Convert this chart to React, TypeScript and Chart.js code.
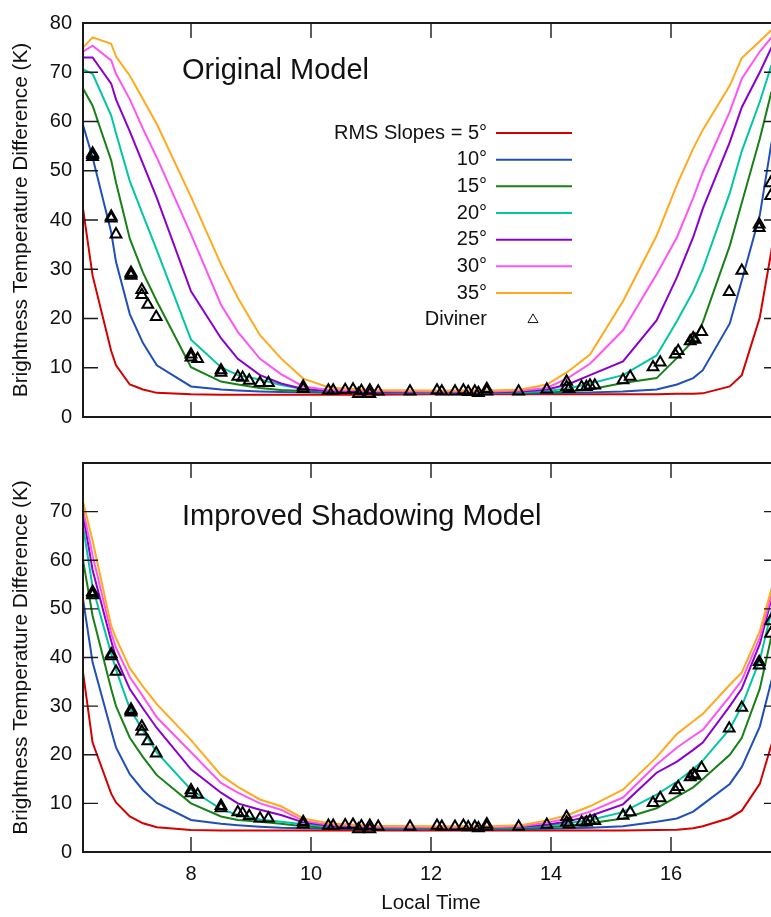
import { useEffect, useRef } from 'react';
import { Chart, registerables } from 'chart.js';

Chart.register(...registerables);

// ---------- data ----------
const MODEL_TIMES = [6.2, 6.36, 6.67, 6.75, 6.98, 7.2, 7.43, 8.0, 8.5, 8.78, 9.15, 9.5, 9.87, 10.3, 11.0, 12.0, 13.0, 13.5, 13.93, 14.28, 14.65, 15.2, 15.76, 16.1, 16.37, 16.53, 16.98, 17.18, 17.48, 17.67, 17.8];

const SLOPE_LABELS = ['RMS Slopes = 5°', '10°', '15°', '20°', '25°', '30°', '35°'];

// Original model
const ORIG_5 = [42.3, 28.7, 13.4, 10.5, 6.6, 5.6, 4.9, 4.6, 4.5, 4.5, 4.5, 4.5, 4.5, 4.5, 4.5, 4.6, 4.6, 4.6, 4.6, 4.6, 4.6, 4.6, 4.6, 4.7, 4.7, 4.8, 6.2, 8.5, 20.2, 33.5, 44.0];
const ORIG_10 = [59.3, 52.7, 37.5, 31.5, 20.9, 15.0, 10.5, 6.2, 5.6, 5.4, 5.2, 5.1, 5.0, 4.9, 4.8, 4.8, 4.8, 4.8, 4.8, 4.9, 5.0, 5.2, 5.6, 6.6, 7.9, 9.5, 19.0, 27.7, 41.0, 55.3, 62.5];
const ORIG_15 = [66.7, 63.2, 52.1, 47.6, 36.2, 29.3, 23.5, 10.1, 7.2, 6.6, 5.9, 5.5, 5.3, 5.0, 4.9, 4.8, 4.8, 4.9, 5.0, 5.2, 5.6, 6.9, 7.9, 12.0, 15.5, 19.2, 34.8, 43.5, 56.5, 65.8, 69.5];
const ORIG_20 = [70.6, 69.7, 61.2, 57.6, 47.9, 41.0, 33.9, 15.7, 10.1, 8.5, 7.6, 6.5, 5.7, 5.2, 5.0, 4.9, 4.9, 5.0, 5.3, 5.8, 6.8, 8.5, 12.5, 19.5, 25.5, 30.0, 45.5, 54.0, 64.0, 71.3, 73.5];
const ORIG_25 = [73.0, 73.0, 67.7, 64.5, 58.0, 51.4, 44.5, 25.5, 16.0, 11.8, 8.5, 6.8, 5.7, 5.3, 5.1, 5.0, 5.0, 5.2, 5.6, 6.6, 8.5, 11.3, 19.6, 28.4, 36.5, 42.3, 55.8, 62.9, 70.0, 74.9, 76.8];
const ORIG_30 = [74.2, 75.4, 72.4, 69.7, 64.5, 58.5, 52.7, 37.1, 22.8, 17.3, 11.8, 8.7, 6.2, 5.5, 5.3, 5.2, 5.2, 5.4, 5.9, 7.9, 10.8, 17.6, 29.0, 36.5, 44.5, 49.7, 62.0, 68.7, 74.2, 77.0, 78.3];
const ORIG_35 = [75.0, 77.1, 75.8, 73.2, 69.3, 64.5, 59.5, 44.7, 31.0, 24.2, 16.6, 11.9, 7.8, 6.0, 5.5, 5.4, 5.4, 5.6, 6.6, 9.2, 12.7, 23.5, 36.8, 47.2, 54.5, 58.3, 67.3, 72.9, 76.3, 78.5, 79.6];

// Improved shadowing model
const IMPR_5 = [37.0, 22.5, 12.0, 10.2, 7.3, 5.9, 5.1, 4.5, 4.4, 4.4, 4.4, 4.4, 4.4, 4.4, 4.4, 4.4, 4.4, 4.4, 4.4, 4.4, 4.4, 4.4, 4.5, 4.6, 4.9, 5.3, 7.0, 8.5, 14.0, 21.9, 27.0];
const IMPR_10 = [52.0, 39.0, 25.0, 21.5, 16.0, 12.7, 10.1, 6.6, 5.8, 5.5, 5.2, 5.0, 4.9, 4.8, 4.7, 4.7, 4.7, 4.7, 4.8, 4.9, 5.0, 5.3, 6.2, 6.9, 8.3, 9.8, 14.0, 17.5, 25.8, 35.0, 41.5];
const IMPR_15 = [60.0, 48.6, 33.5, 30.0, 23.5, 19.5, 15.8, 10.0, 7.3, 6.6, 6.2, 5.8, 5.3, 5.0, 4.9, 4.8, 4.8, 4.9, 5.1, 5.4, 5.9, 6.9, 9.0, 11.4, 13.3, 15.0, 20.0, 23.5, 33.6, 44.1, 50.0];
const IMPR_20 = [67.0, 54.5, 40.8, 37.5, 29.5, 25.0, 20.5, 12.8, 8.8, 7.6, 6.7, 6.2, 5.7, 5.3, 5.0, 4.9, 4.9, 5.1, 5.4, 5.9, 6.6, 8.2, 11.8, 14.5, 17.0, 18.8, 25.3, 30.0, 39.5, 49.3, 54.0];
const IMPR_25 = [69.5, 58.0, 43.4, 40.0, 33.5, 29.5, 25.5, 17.0, 12.2, 10.0, 8.7, 7.6, 6.1, 5.4, 5.1, 5.0, 5.0, 5.2, 5.6, 6.3, 7.4, 9.8, 16.3, 18.6, 21.0, 22.5, 30.0, 33.6, 42.8, 51.9, 56.5];
const IMPR_30 = [70.5, 61.0, 45.0, 42.0, 36.0, 32.0, 27.7, 20.5, 14.2, 12.2, 10.0, 8.7, 6.4, 5.6, 5.2, 5.1, 5.1, 5.3, 6.0, 6.9, 8.3, 11.2, 18.0, 21.5, 23.8, 25.1, 32.0, 35.3, 44.1, 52.6, 57.5];
const IMPR_35 = [72.1, 64.0, 46.5, 44.0, 37.8, 34.0, 30.4, 23.0, 15.8, 13.4, 10.8, 9.4, 6.9, 5.9, 5.4, 5.3, 5.3, 5.5, 6.5, 7.6, 9.4, 12.8, 19.5, 24.3, 26.9, 28.4, 34.4, 36.9, 45.4, 53.9, 60.0];

// Diviner observations
const DIVINER_TIMES = [6.36, 6.36, 6.36, 6.67, 6.67, 6.75, 7.0, 7.0, 7.0, 7.18, 7.18, 7.28, 7.42, 8.0, 8.0, 8.11, 8.5, 8.5, 8.78, 8.86, 8.97, 9.15, 9.29, 9.87, 9.87, 10.29, 10.37, 10.57, 10.7, 10.79, 10.84, 10.98, 10.98, 11.12, 11.65, 12.1, 12.18, 12.4, 12.54, 12.62, 12.73, 12.79, 12.93, 12.93, 13.46, 13.93, 14.26, 14.26, 14.3, 14.51, 14.59, 14.65, 14.73, 15.2, 15.32, 15.7, 15.82, 16.07, 16.12, 16.32, 16.37, 16.4, 16.51, 16.97, 17.18, 17.47, 17.47, 17.66, 17.66];
const DIVINER_VALUES = [53.5, 52.8, 53.2, 40.7, 40.3, 37.1, 29.3, 28.7, 29.0, 25.8, 24.8, 22.8, 20.3, 12.7, 12.1, 11.8, 9.5, 9.0, 8.2, 8.0, 7.4, 6.9, 6.9, 6.2, 5.7, 5.4, 5.4, 5.5, 5.6, 4.7, 5.3, 4.7, 5.4, 5.2, 5.2, 5.4, 5.2, 5.2, 5.4, 5.1, 5.2, 4.9, 5.7, 5.2, 5.2, 5.6, 7.2, 6.1, 5.7, 6.1, 6.1, 6.4, 6.4, 7.5, 8.2, 10.1, 11.1, 12.7, 13.4, 15.4, 16.0, 15.7, 17.3, 25.4, 29.7, 39.1, 38.4, 47.5, 44.9];

const X_MIN = 6.2;
const X_MAX = 17.8;
const Y_MIN = 0;
const Y_MAX = 80;

// ---------- styles ----------
const COLORS = ['#d40000', '#1f4fb8', '#178017', '#00c7a2', '#8a00d2', '#ff55f0', '#ffaa1e'];
const FONT = '"Liberation Sans", Arial, Helvetica, sans-serif';
const INK = '#111111';

const framePlugin = {
  id: 'gnuFrame',
  afterDatasetsDraw(chart: any) {
    const { ctx, chartArea } = chart;
    const { left, right, top, bottom } = chartArea;
    const xs = chart.scales.x;
    const ys = chart.scales.y;
    ctx.save();
    ctx.strokeStyle = '#1a1a1a';
    ctx.lineWidth = 1.4;
    ctx.beginPath();
    xs.ticks.forEach((t: any) => {
      const p = xs.getPixelForValue(t.value);
      if (p <= left + 1 || p >= right - 1) return;
      ctx.moveTo(p, bottom);
      ctx.lineTo(p, bottom - 15);
      ctx.moveTo(p, top);
      ctx.lineTo(p, top + 15);
    });
    ys.ticks.forEach((t: any) => {
      const p = ys.getPixelForValue(t.value);
      if (p <= top + 1 || p >= bottom - 1) return;
      ctx.moveTo(left, p);
      ctx.lineTo(left + 15, p);
      ctx.moveTo(right, p);
      ctx.lineTo(right - 15, p);
    });
    ctx.stroke();
    ctx.lineWidth = 2;
    ctx.strokeRect(left, top, right - left, bottom - top);
    ctx.restore();
  },
};

const annotationPlugin = {
  id: 'panelText',
  afterDraw(chart: any, _args: any, opts: any) {
    const ctx = chart.ctx;
    ctx.save();
    ctx.fillStyle = INK;
    ctx.font = `29px ${FONT}`;
    ctx.textAlign = 'left';
    ctx.textBaseline = 'alphabetic';
    ctx.fillText(opts.title, 182, opts.titleY);
    if (opts.legend) {
      const y0 = 133;
      const dy = 26.67;
      ctx.font = `20px ${FONT}`;
      ctx.textAlign = 'right';
      ctx.textBaseline = 'middle';
      SLOPE_LABELS.forEach((lab, i) => {
        const ds = chart.data.datasets.find((d: any) => d.label === lab);
        const y = y0 + i * dy;
        ctx.fillStyle = INK;
        ctx.fillText(lab, 487, y);
        ctx.strokeStyle = ds ? ds.borderColor : COLORS[i];
        ctx.lineWidth = 2;
        ctx.beginPath();
        ctx.moveTo(496, y);
        ctx.lineTo(572, y);
        ctx.stroke();
      });
      const yd = y0 + SLOPE_LABELS.length * dy;
      ctx.fillStyle = INK;
      ctx.fillText('Diviner', 487, yd);
      const r = 5.8;
      const cx = 533;
      ctx.strokeStyle = INK;
      ctx.lineWidth = 1;
      ctx.beginPath();
      for (let k = 0; k < 3; k++) {
        const a = (k * 2 * Math.PI) / 3;
        const px = cx + Math.sin(a) * r;
        const py = yd - Math.cos(a) * r;
        if (k === 0) ctx.moveTo(px, py);
        else ctx.lineTo(px, py);
      }
      ctx.closePath();
      ctx.stroke();
    }
    ctx.restore();
  },
};

function buildDatasets(series: number[][]) {
  const lines = series.map((vals, i) => ({
    type: 'line',
    label: SLOPE_LABELS[i],
    data: MODEL_TIMES.map((t, j) => ({ x: t, y: vals[j] })),
    borderColor: COLORS[i],
    backgroundColor: COLORS[i],
    borderWidth: 2,
    pointRadius: 0,
    tension: 0,
    fill: false,
    order: series.length - i,
  }));
  const obs = {
    type: 'line',
    label: 'Diviner',
    data: DIVINER_TIMES.map((t, j) => ({ x: t, y: DIVINER_VALUES[j] })),
    showLine: false,
    pointStyle: 'triangle',
    pointRadius: 6.2,
    pointBorderWidth: 2,
    pointBorderColor: '#000000',
    pointBackgroundColor: 'rgba(0,0,0,0)',
    borderColor: '#000000',
    backgroundColor: 'rgba(0,0,0,0)',
    order: 0,
  };
  return [obs, ...lines];
}

function makeConfig(opts: {
  series: number[][];
  title: string;
  titleY: number;
  legend: boolean;
  padTop: number;
  xHeight: number;
  bottom: boolean;
}) {
  return {
    type: 'line',
    data: { datasets: buildDatasets(opts.series) },
    plugins: [framePlugin, annotationPlugin],
    options: {
      animation: false,
      responsive: false,
      maintainAspectRatio: false,
      events: [],
      layout: { padding: { top: opts.padTop, right: 21, left: 0, bottom: 0 } },
      plugins: {
        legend: { display: false },
        tooltip: { enabled: false },
        panelText: { title: opts.title, titleY: opts.titleY, legend: opts.legend },
      },
      scales: {
        x: {
          type: 'linear',
          min: X_MIN,
          max: X_MAX,
          grid: { display: false, drawTicks: false },
          border: { display: false },
          ticks: {
            display: opts.bottom,
            stepSize: 2,
            includeBounds: false,
            padding: 10,
            color: INK,
            font: { family: FONT, size: 20 },
            maxRotation: 0,
            callback: (v: any) => String(v),
          },
          title: {
            display: opts.bottom,
            text: 'Local Time',
            color: INK,
            font: { family: FONT, size: 20.5 },
            padding: { top: 0, bottom: 1 },
          },
          afterFit: (s: any) => {
            s.height = opts.xHeight;
          },
        },
        y: {
          type: 'linear',
          min: Y_MIN,
          max: Y_MAX,
          grid: { display: false, drawTicks: false },
          border: { display: false },
          ticks: {
            stepSize: 10,
            padding: 11,
            color: INK,
            font: { family: FONT, size: 20 },
            callback: (v: any) => (!opts.bottom || v !== Y_MAX ? String(v) : ''),
          },
          title: {
            display: true,
            text: 'Brightness Temperature Difference (K)',
            color: INK,
            font: { family: FONT, size: 20.8 },
            padding: { top: 8.5, bottom: 0 },
          },
          afterFit: (s: any) => {
            s.width = 83;
          },
        },
      },
    },
  };
}

export default function App() {
  const topRef = useRef<HTMLCanvasElement | null>(null);
  const botRef = useRef<HTMLCanvasElement | null>(null);

  useEffect(() => {
    const charts: Chart[] = [];
    if (topRef.current) {
      charts.push(
        new Chart(
          topRef.current,
          makeConfig({
            series: [ORIG_5, ORIG_10, ORIG_15, ORIG_20, ORIG_25, ORIG_30, ORIG_35],
            title: 'Original Model',
            titleY: 79,
            legend: true,
            padTop: 17,
            xHeight: 13,
            bottom: false,
          }) as any
        )
      );
    }
    if (botRef.current) {
      charts.push(
        new Chart(
          botRef.current,
          makeConfig({
            series: [IMPR_5, IMPR_10, IMPR_15, IMPR_20, IMPR_25, IMPR_30, IMPR_35],
            title: 'Improved Shadowing Model',
            titleY: 85,
            legend: false,
            padTop: 3,
            xHeight: 65,
            bottom: true,
          }) as any
        )
      );
    }
    return () => charts.forEach((c) => c.destroy());
  }, []);

  return (
    <div
      style={{
        position: 'fixed',
        left: 0,
        top: 0,
        width: 771,
        height: 917,
        overflow: 'hidden',
        background: '#ffffff',
      }}
    >
      <canvas
        ref={topRef}
        width={800}
        height={440}
        style={{ position: 'absolute', left: 0, top: 0, width: 800, height: 440 }}
      />
      <canvas
        ref={botRef}
        width={800}
        height={477}
        style={{ position: 'absolute', left: 0, top: 440, width: 800, height: 477 }}
      />
    </div>
  );
}
